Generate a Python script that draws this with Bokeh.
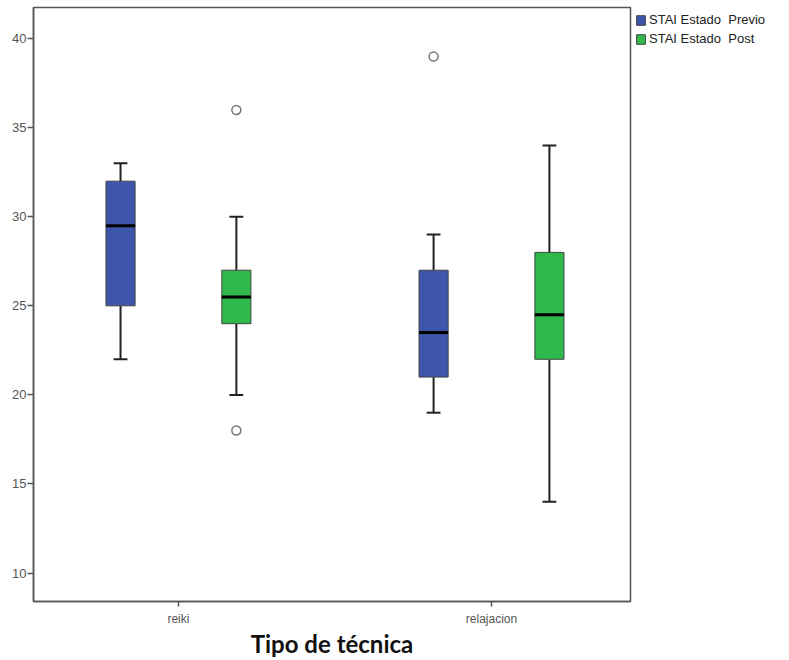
from bokeh.plotting import figure
from bokeh.models import Range1d, FixedTicker, Legend, LegendItem, ColumnDataSource
from bokeh.embed import file_html
from bokeh.resources import INLINE

categories = ["reiki", "relajacion"]
series = ["STAI Estado  Previo", "STAI Estado  Post"]
colors = ["#3D55AA", "#2FB84B"]

# [reiki, relajacion] per series
q1 = {"STAI Estado  Previo": [25, 21], "STAI Estado  Post": [24, 22]}
median = {"STAI Estado  Previo": [29.5, 23.5], "STAI Estado  Post": [25.5, 24.5]}
q3 = {"STAI Estado  Previo": [32, 27], "STAI Estado  Post": [27, 28]}
w_low = {"STAI Estado  Previo": [22, 19], "STAI Estado  Post": [20, 14]}
w_high = {"STAI Estado  Previo": [33, 29], "STAI Estado  Post": [30, 34]}
outliers = {"STAI Estado  Previo": [[], [39]], "STAI Estado  Post": [[36, 18], []]}

offsets = [-0.185, 0.185]
box_w = 0.093
cap_half = 0.022

p = figure(frame_width=597, frame_height=594, output_backend="svg", toolbar_location=None,
           x_range=Range1d(0.037, 1.944), y_range=Range1d(8.4, 41.75),
           min_border_left=33, min_border_top=7, min_border_right=0, min_border_bottom=0)

items = []
for s, col, off in zip(series, colors, offsets):
    xs = [i + 0.5 + off for i in range(len(categories))]
    src = ColumnDataSource(dict(x=xs, q1=q1[s], q3=q3[s], med=median[s], lo=w_low[s], hi=w_high[s],
                                cl=[x - cap_half for x in xs], cr=[x + cap_half for x in xs],
                                ml=[x - box_w / 2 for x in xs], mr=[x + box_w / 2 for x in xs]))
    p.segment(x0="x", y0="q3", x1="x", y1="hi", source=src, line_color="#222222", line_width=2)
    p.segment(x0="x", y0="lo", x1="x", y1="q1", source=src, line_color="#222222", line_width=2)
    p.segment(x0="cl", y0="hi", x1="cr", y1="hi", source=src, line_color="#222222", line_width=2)
    p.segment(x0="cl", y0="lo", x1="cr", y1="lo", source=src, line_color="#222222", line_width=2)
    r = p.vbar(x="x", top="q3", bottom="q1", width=box_w, source=src,
               fill_color=col, line_color="#444444", line_width=1)
    p.segment(x0="ml", y0="med", x1="mr", y1="med", source=src, line_color="#000000", line_width=3)
    ox, oy = [], []
    for i, vals in enumerate(outliers[s]):
        for v in vals:
            ox.append(i + 0.5 + off)
            oy.append(v)
    if ox:
        p.scatter(ox, oy, size=9, marker="circle", fill_color="white", line_color="#777777", line_width=1.5)
    items.append(LegendItem(label=s, renderers=[r]))

legend = Legend(items=items, location="top_left", glyph_width=11, glyph_height=12,
                label_text_font_size="13px", label_text_font="Liberation Sans", label_text_color="#222222",
                spacing=4, padding=0, margin=5, border_line_color=None, label_standoff=3,
                label_height=14, background_fill_alpha=0)
p.add_layout(legend, "right")

p.xaxis.ticker = FixedTicker(ticks=[i + 0.5 for i in range(len(categories))])
p.xaxis.major_label_overrides = {i + 0.5: c for i, c in enumerate(categories)}
p.xaxis.axis_label = "Tipo de técnica"
p.xaxis.axis_label_text_font = "Lato"
p.xaxis.axis_label_text_font_style = "bold"
p.xaxis.axis_label_text_font_size = "24px"
p.xaxis.axis_label_text_color = "#111111"
p.xaxis.axis_label_standoff = 0
p.xaxis.minor_tick_line_color = None

p.yaxis.ticker = FixedTicker(ticks=[10, 15, 20, 25, 30, 35, 40])
p.yaxis.minor_tick_line_color = None

for ax in (p.xaxis, p.yaxis):
    ax.major_tick_in = 0
    ax.axis_line_color = "#555555"
    ax.axis_line_width = 1.5
    ax.major_tick_line_color = "#555555"
    ax.major_tick_line_width = 1.5
    ax.major_label_text_font = "Liberation Sans"
    ax.major_label_text_color = "#555555"

p.yaxis.major_tick_out = 6
p.yaxis.major_label_standoff = 1
p.yaxis.major_label_text_font_size = "13px"
p.xaxis.major_tick_out = 5
p.xaxis.major_label_standoff = 5
p.xaxis.major_label_text_font_size = "12px"

p.xgrid.visible = False
p.ygrid.visible = False
p.outline_line_color = "#555555"
p.outline_line_width = 1.5
p.background_fill_color = "white"
p.border_fill_color = "white"

open("out.html", "w").write(file_html(p, INLINE))
